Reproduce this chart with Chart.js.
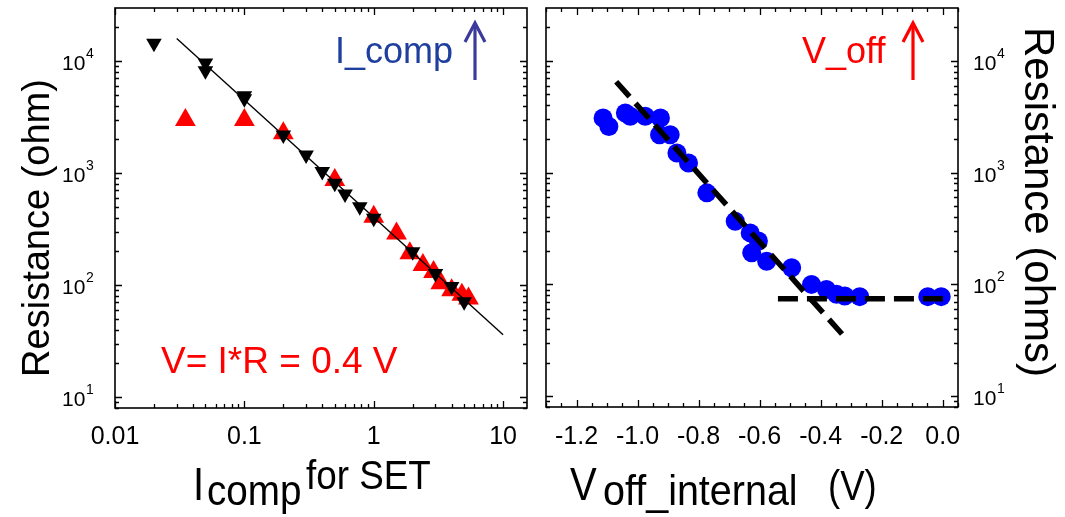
<!DOCTYPE html>
<html>
<head>
<meta charset="utf-8">
<script src="https://cdn.jsdelivr.net/npm/chart.js@4.4.1/dist/chart.umd.min.js"></script>
<style>
  html, body { margin: 0; padding: 0; background: #fff; }
  #wrap { position: relative; width: 1065px; height: 517px; overflow: hidden; }
  #wrap canvas { position: absolute; top: 0; }
  #rcomp { left: 0; }
  #rvoff { left: 530px; }
</style>
</head>
<body>
<div id="wrap">
  <canvas id="rcomp" width="530" height="517"></canvas>
  <canvas id="rvoff" width="535" height="517"></canvas>
</div>
<script>
// Resistance after SET vs compliance current (left), and vs internal V_off (right)

// --- left panel: log-log, R vs I_comp ---
const icompDown = [0.02, 0.05, 0.05, 0.1, 0.1, 0.2, 0.3, 0.4, 0.5, 0.6, 0.78, 1, 2, 3, 4, 5];
const resDown   = [14400, 9600, 8200, 4900, 4600, 2180, 1450, 1030, 810, 650, 500, 395, 198, 127, 97, 71];
const icompUp   = [0.035, 0.1, 0.2, 0.5, 1, 1.5, 1.9, 2.4, 2.9, 3.3, 4, 4.8, 5.4];
const resUp     = [2970, 2970, 2260, 866, 408, 289, 192, 151, 131, 104, 90, 82, 76];
const fitIcomp  = [0.03, 10];
const fitRes    = [15900, 36];
const icompTicks = [0.01, 0.1, 1, 10];
const icompTickLabels = ['0.01', '0.1', '1', '10'];

// --- right panel: R vs V_off_internal ---
const voff    = [-1.113, -1.094, -1.04, -1.024, -0.975, -0.925, -0.928, -0.893, -0.871, -0.833, -0.773,
                 -0.68, -0.631, -0.604, -0.626, -0.577, -0.495, -0.43, -0.381, -0.348, -0.321, -0.272, -0.049, -0.005];
const resVoff = [3080, 2590, 3410, 3190, 3190, 3080, 2180, 2180, 1500, 1220, 659,
                 367, 289, 244, 192, 161, 141, 100, 90, 81.5, 78.7, 77.7, 77.7, 77.7];
const slopeV  = [-1.07, -0.33];
const slopeR  = [6500, 36];
const flatV   = [-0.54, 0.017];
const flatR   = [74.5, 74.5];
const voffTicks = [-1.2, -1.0, -0.8, -0.6, -0.4, -0.2, 0.0];
const voffTickLabels = ['-1.2', '-1.0', '-0.8', '-0.6', '-0.4', '-0.2', '0.0'];

// shared resistance axis
const resMin = 8, resMax = 29700;
const resTicks = [10, 100, 1000, 10000];
const resExp = ['1', '2', '3', '4'];

const SANS = '"Liberation Sans", Arial, sans-serif';
Chart.defaults.font.family = SANS;
Chart.defaults.animation = false;

function pts(xs, ys) {
  return xs.map((x, i) => ({ x: x, y: ys[i] }));
}

// all 1..9 x 10^n values inside [min, max]
function logTicks(min, max) {
  const out = [];
  for (let e = Math.floor(Math.log10(min)); e <= Math.ceil(Math.log10(max)); e++) {
    for (let k = 1; k < 10; k++) {
      const v = k * Math.pow(10, e);
      if (v >= min * 0.999 && v <= max * 1.001) out.push({ v: v, major: k === 1 });
    }
  }
  return out;
}

function linTicks(min, max, step, majorStep) {
  const out = [];
  const n0 = Math.ceil(min / step - 1e-6), n1 = Math.floor(max / step + 1e-6);
  for (let n = n0; n <= n1; n++) {
    const v = n * step;
    const r = v / majorStep;
    out.push({ v: v, major: Math.abs(r - Math.round(r)) < 1e-6 });
  }
  return out;
}

function drawText(ctx, str, x, y, size, color, align, sx) {
  ctx.save();
  ctx.translate(x, y);
  if (sx) ctx.scale(sx, 1);
  ctx.font = size + 'px ' + SANS;
  ctx.fillStyle = color;
  ctx.textAlign = align || 'left';
  ctx.textBaseline = 'alphabetic';
  ctx.fillText(str, 0, 0);
  ctx.restore();
}

function drawArrow(ctx, x, yTop, yBottom, color) {
  ctx.save();
  ctx.strokeStyle = color;
  ctx.lineWidth = 3.2;
  ctx.lineCap = 'butt';
  ctx.beginPath();
  ctx.moveTo(x, yBottom);
  ctx.lineTo(x, yTop + 1);
  ctx.stroke();
  ctx.beginPath();
  ctx.moveTo(x - 10, yTop + 19);
  ctx.lineTo(x, yTop);
  ctx.lineTo(x + 10, yTop + 19);
  ctx.stroke();
  ctx.restore();
}

// box, inward ticks on all four sides, tick labels and titles
const framePlugin = {
  id: 'frame',
  afterDatasetsDraw(chart, args, opts) {
    const ctx = chart.ctx;
    const a = chart.chartArea;
    const xs = chart.scales.x, ys = chart.scales.y;
    ctx.save();
    ctx.strokeStyle = '#000';
    ctx.lineWidth = 1.3;
    ctx.beginPath();
    opts.xTicks.forEach(t => {
      const px = Math.round(xs.getPixelForValue(t.v)) + 0.5;
      const len = t.major ? 7 : 4;
      ctx.moveTo(px, a.bottom); ctx.lineTo(px, a.bottom - len);
      ctx.moveTo(px, a.top); ctx.lineTo(px, a.top + len);
    });
    opts.yTicks.forEach(t => {
      const py = Math.round(ys.getPixelForValue(t.v)) + 0.5;
      const len = t.major ? 7 : 4;
      ctx.moveTo(a.left, py); ctx.lineTo(a.left + len, py);
      ctx.moveTo(a.right, py); ctx.lineTo(a.right - len, py);
    });
    ctx.stroke();
    ctx.lineWidth = 1.6;
    ctx.strokeRect(a.left, a.top, a.right - a.left, a.bottom - a.top);
    ctx.restore();

    // x tick labels
    opts.xLabels.forEach((s, i) => {
      drawText(ctx, s, xs.getPixelForValue(opts.xLabelValues[i]), 444, 25, '#000', 'center');
    });
    // y tick labels as 10^n
    resTicks.forEach((v, i) => {
      const py = ys.getPixelForValue(v);
      drawText(ctx, '10', opts.yLabelX, py + 9, 21, '#000', 'left');
      drawText(ctx, resExp[i], opts.yLabelX + 24, py - 3, 14, '#000', 'left');
    });
    if (opts.extra) opts.extra(ctx, chart);
  }
};

function scatterSet(data, color, style, radius, rotation) {
  return {
    type: 'scatter',
    data: data,
    pointStyle: style,
    pointRadius: radius,
    pointHoverRadius: radius,
    pointRotation: rotation || 0,
    backgroundColor: color,
    borderColor: color,
    borderWidth: 0,
    showLine: false
  };
}

function lineSet(data, width, dash) {
  return {
    type: 'line',
    data: data,
    borderColor: '#000',
    borderWidth: width,
    borderDash: dash || [],
    borderCapStyle: 'butt',
    pointRadius: 0,
    fill: false,
    tension: 0
  };
}

function hiddenScale(type, min, max) {
  return { type: type, min: min, max: max, display: false };
}

// left chart
new Chart(document.getElementById('rcomp'), {
  type: 'scatter',
  data: {
    datasets: [
      scatterSet(pts(icompDown, resDown), '#000', 'triangle', 9, 180),
      lineSet(pts(fitIcomp, fitRes), 1.4),
      scatterSet(pts(icompUp, resUp), '#ff0000', 'triangle', 12, 0)
    ]
  },
  options: {
    responsive: false,
    events: [],
    layout: { autoPadding: false, padding: { left: 115, right: 3, top: 8, bottom: 109 } },
    scales: {
      x: hiddenScale('logarithmic', 0.01, 15.3),
      y: hiddenScale('logarithmic', resMin, resMax)
    },
    plugins: {
      legend: { display: false },
      tooltip: { enabled: false },
      frame: {
        xTicks: logTicks(0.01, 15.3),
        yTicks: logTicks(resMin, resMax),
        xLabels: icompTickLabels,
        xLabelValues: icompTicks,
        yLabelX: 62,
        extra(ctx) {
          drawText(ctx, 'I_comp', 335, 63, 36, '#1f3f9f');
          drawArrow(ctx, 475, 23, 80, '#3b3b9b');
          drawText(ctx, 'V= I*R = 0.4 V', 161, 373, 37, '#ff0000');
          // y title
          ctx.save();
          ctx.translate(49, 228);
          ctx.rotate(-Math.PI / 2);
          drawText(ctx, 'Resistance (ohm)', 0, 0, 38, '#000', 'center');
          ctx.restore();
          // x title: I_comp for SET
          drawText(ctx, 'I', 193, 500, 46, '#000', 'left', 0.87);
          drawText(ctx, 'comp', 207, 505, 42, '#000', 'left', 0.92);
          drawText(ctx, 'for SET', 306, 489, 40, '#000', 'left', 0.92);
        }
      }
    }
  },
  plugins: [framePlugin]
});

// right chart
new Chart(document.getElementById('rvoff'), {
  type: 'scatter',
  data: {
    datasets: [
      lineSet(pts(slopeV, slopeR), 5.5, [20, 9]),
      lineSet(pts(flatV, flatR), 5.5, [20, 9]),
      scatterSet(pts(voff, resVoff), '#0000ff', 'circle', 9.5, 0)
    ]
  },
  options: {
    responsive: false,
    events: [],
    layout: { autoPadding: false, padding: { left: 16, right: 107, top: 8, bottom: 110 } },
    scales: {
      x: hiddenScale('linear', -1.3, 0.05),
      y: hiddenScale('logarithmic', resMin, resMax)
    },
    plugins: {
      legend: { display: false },
      tooltip: { enabled: false },
      frame: {
        xTicks: linTicks(-1.3, 0.05, 0.05, 0.2),
        yTicks: logTicks(resMin, resMax),
        xLabels: voffTickLabels,
        xLabelValues: voffTicks,
        yLabelX: 443,
        extra(ctx) {
          drawText(ctx, 'V_off', 272, 63, 36, '#ff0000');
          drawArrow(ctx, 383, 23, 80, '#ff0000');
          // y title on the right, reading downward
          ctx.save();
          ctx.translate(495, 202);
          ctx.rotate(Math.PI / 2);
          drawText(ctx, 'Resistance (ohms)', 0, 0, 42, '#000', 'center');
          ctx.restore();
          // x title: V_off_internal (V)
          drawText(ctx, 'V', 40, 500, 46, '#000', 'left', 0.87);
          drawText(ctx, 'off_internal', 73, 505, 42, '#000', 'left', 0.94);
          drawText(ctx, '(V)', 298, 500, 42, '#000', 'left', 0.87);
        }
      }
    }
  },
  plugins: [framePlugin]
});
</script>
</body>
</html>
